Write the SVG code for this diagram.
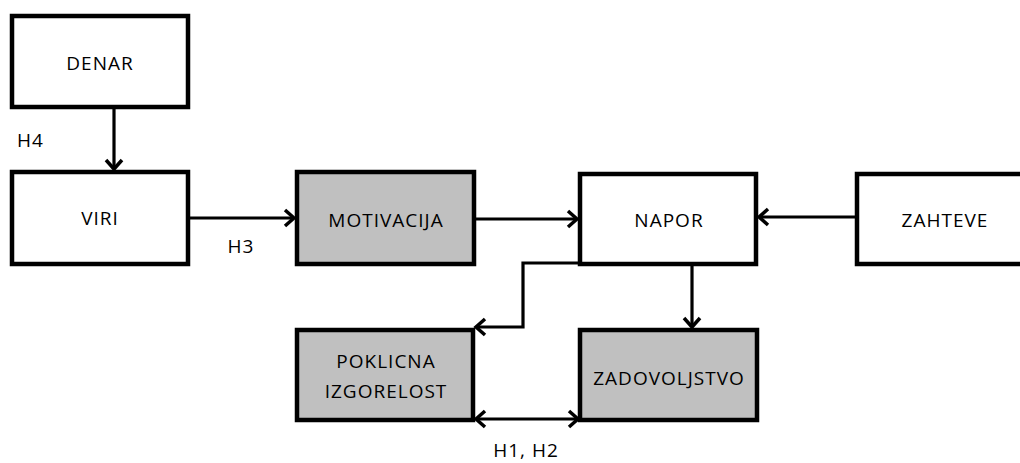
<svg xmlns="http://www.w3.org/2000/svg" width="1020" height="463" viewBox="0 0 1020 463">
<style>
.box{fill:#fff;stroke:#000;stroke-width:4.5}
.grey{fill:#c0c0c0}
.t{font-family:"Open Sans","Noto Sans",sans-serif;font-size:19px;letter-spacing:1px;fill:#000;text-anchor:middle}
.lab{font-family:"Open Sans","Noto Sans",sans-serif;font-size:19px;letter-spacing:1px;fill:#000}
.c{fill:none;stroke:#000;stroke-width:3.2}
</style>
<defs>
<marker id="ah" markerUnits="userSpaceOnUse" viewBox="-12 -10 14 20" refX="0" refY="0" markerWidth="14" markerHeight="20" orient="auto-start-reverse" overflow="visible">
<path d="M-9,-8 L0,0 L-9,8" fill="none" stroke="#000" stroke-width="3.5"/>
</marker>
</defs>
<rect width="1020" height="463" fill="#fff"/>
<g id="denar"><rect class="box" x="12" y="16" width="176" height="91"/><text class="t" x="100" y="70">DENAR</text></g>
<g id="viri"><rect class="box" x="12" y="172" width="176" height="92"/><text class="t" x="100" y="225">VIRI</text></g>
<g id="motivacija"><rect class="box grey" x="297" y="172" width="177" height="92"/><text class="t" x="386" y="227">MOTIVACIJA</text></g>
<g id="napor"><rect class="box" x="580" y="174" width="176" height="90"/><text class="t" x="669" y="227">NAPOR</text></g>
<g id="zahteve"><rect class="box" x="857" y="174" width="180" height="90"/><text class="t" x="945" y="227">ZAHTEVE</text></g>
<g id="poklicna"><rect class="box grey" x="297" y="330" width="176" height="90"/><text class="t" x="386" y="368">POKLICNA</text><text class="t" x="386" y="398">IZGORELOST</text></g>
<g id="zadovoljstvo"><rect class="box grey" x="580" y="330" width="177" height="90"/><text class="t" x="669" y="385">ZADOVOLJSTVO</text></g>
<g id="connectors">
<line class="c" x1="114" y1="109" x2="114" y2="169" marker-end="url(#ah)"/>
<line class="c" x1="190" y1="218" x2="294" y2="218" marker-end="url(#ah)"/>
<line class="c" x1="476" y1="219" x2="577" y2="219" marker-end="url(#ah)"/>
<line class="c" x1="855" y1="217" x2="759" y2="217" marker-end="url(#ah)"/>
<path class="c" d="M580,263 H523 V327 H476" marker-end="url(#ah)"/>
<line class="c" x1="692" y1="266" x2="692" y2="327" marker-end="url(#ah)"/>
<line class="c" x1="476" y1="419" x2="578" y2="419" marker-start="url(#ah)" marker-end="url(#ah)"/>
<text class="lab" x="17" y="147">H4</text>
<text class="t" x="241" y="253">H3</text>
<text class="t" x="526" y="457">H1, H2</text>
</g>
</svg>
